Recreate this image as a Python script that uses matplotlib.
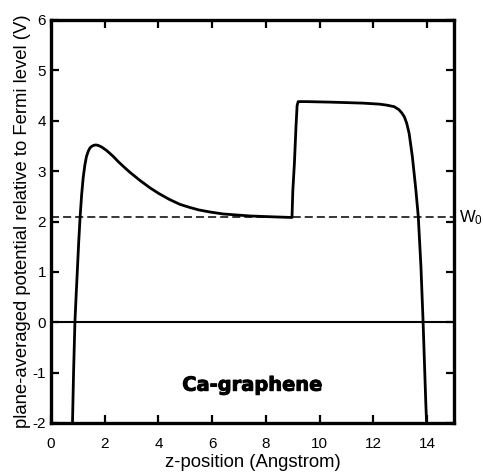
import matplotlib
matplotlib.use("Agg")
import matplotlib.pyplot as plt
import matplotlib.patheffects as pe

plt.rcParams['font.family'] = ['Liberation Sans', 'DejaVu Sans']
plt.rcParams['lines.scale_dashes'] = False
plt.rcParams['axes.unicode_minus'] = False
plt.rcParams['mathtext.fontset'] = 'custom'
plt.rcParams['mathtext.rm'] = 'Liberation Sans'
plt.rcParams['mathtext.it'] = 'Liberation Sans:italic'

# potential curve
z_pos = [0.80, 0.84, 0.89, 0.94, 0.98, 1.03, 1.08, 1.14, 1.20, 1.26, 1.32, 1.39,
         1.45, 1.51, 1.58, 1.67, 1.76, 1.88, 2.07, 2.30, 2.50, 2.70, 2.93, 3.30,
         3.68, 4.00, 4.40, 4.80, 5.16, 5.50, 5.90, 6.40, 6.90, 7.40, 7.88, 8.40,
         8.97, 9.00, 9.06, 9.12, 9.16, 9.20, 9.50, 10.36, 11.00, 11.60, 12.22,
         12.50, 12.77, 12.95, 13.05, 13.15, 13.24, 13.33, 13.45, 13.58, 13.67,
         13.77, 13.85, 13.95, 13.98]
potential = [-2.00, -1.00, 0.00, 0.58, 1.02, 1.58, 2.06, 2.53, 2.88, 3.12, 3.29, 3.40,
             3.46, 3.49, 3.51, 3.52, 3.51, 3.48, 3.41, 3.30, 3.19, 3.09, 2.98, 2.82,
             2.67, 2.56, 2.44, 2.34, 2.28, 2.23, 2.19, 2.15, 2.13, 2.11, 2.10, 2.09,
             2.08, 2.60, 3.16, 3.90, 4.30, 4.38, 4.38, 4.37, 4.36, 4.35, 4.33,
             4.31, 4.28, 4.22, 4.16, 4.08, 3.95, 3.75, 3.29, 2.63, 2.10,
             1.10, 0.00, -1.60, -2.00]

w0_level = 2.08
x_ticks = [0, 2, 4, 6, 8, 10, 12, 14]
y_ticks = [-2, -1, 0, 1, 2, 3, 4, 5, 6]

fig = plt.figure(figsize=(4.83, 4.74), dpi=100)
ax = fig.add_axes([51/483, 1 - 423/474, 403/483, 403/474])

ax.plot(z_pos, potential, color='black', lw=2.0, solid_joinstyle='round')
ax.axhline(0, color='black', lw=1.5)
ax.axhline(w0_level, color='black', lw=1.1, dashes=(5.8, 2.9))

ax.set_xlim(0, 15)
ax.set_ylim(-2, 6)
ax.set_xticks(x_ticks)
ax.set_yticks(y_ticks)
ax.tick_params(direction='in', length=5.5, width=1.6, top=True, right=True,
               labelsize=11)
ax.tick_params(axis='x', pad=10)
ax.tick_params(axis='y', pad=3.5)
for s in ax.spines.values():
    s.set_linewidth(2.4)

ax.set_xlabel('z-position (Angstrom)', fontsize=13.3, labelpad=2)
ax.set_ylabel('plane-averaged potential relative to Fermi level (V)', fontsize=13.3,
              labelpad=1)

ax.text(7.5, -1.25, 'Ca-graphene', fontsize=14, fontweight='bold',
        family='DejaVu Sans', ha='center', va='center',
        path_effects=[pe.Stroke(linewidth=0.7, foreground='black'), pe.Normal()])
ax.text(15.2, w0_level, 'W$_0$', fontsize=12, ha='left', va='center',
        clip_on=False)

fig.savefig('out.png', dpi=100)
